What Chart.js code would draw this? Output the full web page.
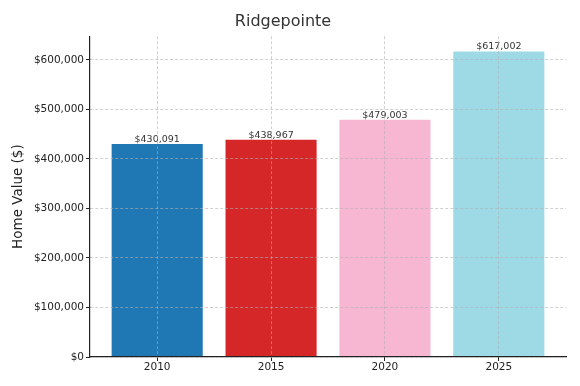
<!DOCTYPE html>
<html>
<head>
<meta charset="utf-8">
<script src="https://cdn.jsdelivr.net/npm/chart.js@4/dist/chart.umd.min.js"></script>
<style>
  html, body { margin: 0; padding: 0; background: #fff; }
  #wrap { width: 580px; height: 386px; }
</style>
</head>
<body>
<div id="wrap"><canvas id="ValueBox" width="580" height="386"></canvas></div>
<script>
        const years = ['2010', '2015', '2020', '2025'];
        const homeValues = [430091, 438967, 479003, 617002];
        const barColors = ['#1f77b4', '#d62728', '#f7b6d2', '#9edae5'];
        const yTicks = [0, 100000, 200000, 300000, 400000, 500000, 600000];

        const money = v => '$' + Math.round(v).toLocaleString('en-US');

        // labels above each bar
        const barLabels = {
            id: 'barLabels',
            afterDatasetsDraw(chart) {
                const ctx = chart.ctx;
                const meta = chart.getDatasetMeta(0);
                ctx.save();
                ctx.font = '9.5px "DejaVu Sans"';
                ctx.fillStyle = '#333';
                ctx.textAlign = 'center';
                ctx.textBaseline = 'alphabetic';
                meta.data.forEach((bar, i) => {
                    ctx.fillText(money(homeValues[i]), bar.x, bar.y - 2);
                });
                ctx.restore();
            }
        };

        const gridOpts = {
            z: 1,
            offset: false,
            color: 'rgba(176,176,176,0.6)',
            tickLength: 4,
            tickColor: '#222',
            tickBorderDash: [],
            tickWidth: 1
        };
        const borderOpts = {display: true, color: '#222', width: 1.2, dash: [3, 2], z: 1};

        const ValueConfig = {
            type: 'bar',
            data: {
                datasets: [{
                    label: 'Home Value',
                    data: homeValues.map((v, i) => ({x: i, y: v})),
                    backgroundColor: barColors,
                    borderWidth: 0,
                    barPercentage: 0.8,
                    categoryPercentage: 1
                }]
            },
            options: {
                responsive: false,
                animation: false,
                layout: {padding: {left: 0, right: 14, top: 0, bottom: 0}},
                scales: {
                    x: {
                        type: 'linear',
                        offset: false,
                        min: -0.59,
                        max: 3.59,
                        afterBuildTicks: s => { s.ticks = years.map((y, i) => ({value: i})); },
                        afterFit: s => { s.height = 29; },
                        grid: gridOpts,
                        border: borderOpts,
                        ticks: {
                            color: '#222',
                            font: {family: 'DejaVu Sans', size: 10.5},
                            padding: 0,
                            maxRotation: 0,
                            callback: v => years[v]
                        }
                    },
                    y: {
                        min: 0,
                        max: 647852,
                        afterBuildTicks: s => { s.ticks = yTicks.map(v => ({value: v})); },
                        afterFit: s => { s.width = 90; },
                        grid: gridOpts,
                        border: borderOpts,
                        title: {
                            display: true,
                            text: 'Home Value ($)',
                            color: '#222',
                            font: {family: 'DejaVu Sans', size: 13.5},
                            padding: {top: 10, bottom: 0}
                        },
                        ticks: {
                            color: '#222',
                            font: {family: 'DejaVu Sans', size: 10.5},
                            padding: 2,
                            callback: v => money(v)
                        }
                    }
                },
                plugins: {
                    legend: {display: false},
                    tooltip: {enabled: false},
                    title: {
                        display: true,
                        text: 'Ridgepointe',
                        color: '#333',
                        font: {family: 'DejaVu Sans', size: 16, weight: 'normal'},
                        padding: {top: 12, bottom: 5}
                    }
                }
            },
            plugins: [barLabels]
        };

        window.onload = function() {
            const ctx = document.getElementById('ValueBox').getContext('2d');
            new Chart(ctx, ValueConfig);
        };
</script>
</body>
</html>
